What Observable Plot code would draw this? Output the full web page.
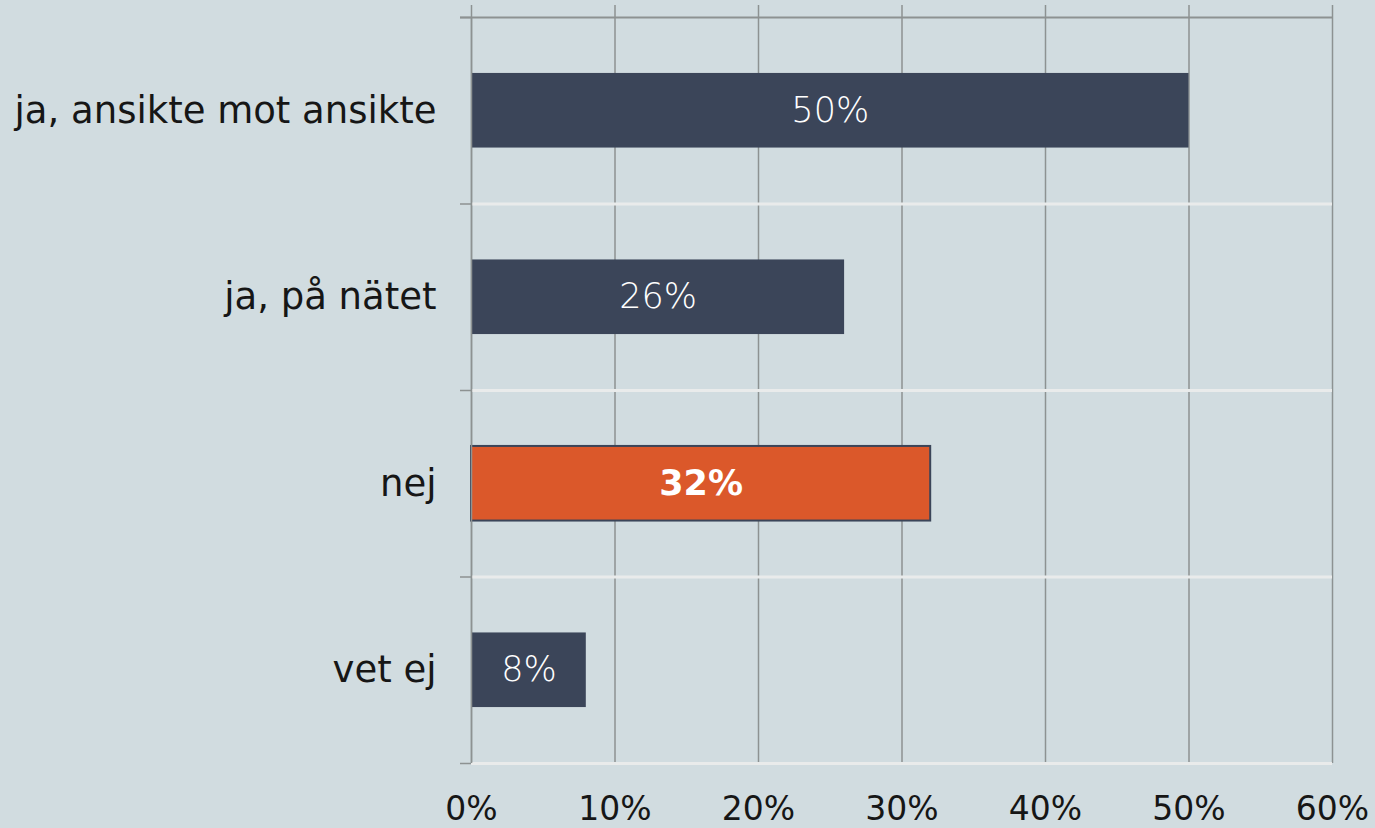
<!DOCTYPE html>
<html>
<head>
<meta charset="utf-8">
<script src="https://cdn.jsdelivr.net/npm/d3@7"></script>
<script src="https://cdn.jsdelivr.net/npm/@observablehq/plot@0.6"></script>
<style>
  html, body { margin: 0; padding: 0; background: #d1dce0; }
  #chart svg { display: block; }
</style>
</head>
<body>
<div id="chart"></div>
<script>
const categories = ["ja, ansikte mot ansikte", "ja, på nätet", "nej", "vet ej"];
const values = [0.50, 0.26, 0.32, 0.08];
const highlighted = ["nej"];
const xTicks = [0, 0.1, 0.2, 0.3, 0.4, 0.5, 0.6];

const data = categories.map((c, i) => ({category: c, index: i, value: values[i], hl: highlighted.includes(c)}));
const boundaries = d3.range(-0.5, categories.length, 1);
const pct = d3.format(".0%");

const dark = "#3b4559";
const orange = "#db582a";
const grid = "#8d9292";
const font = "'DejaVu Sans', sans-serif";

const plot = Plot.plot({
  width: 1375,
  height: 828,
  marginLeft: 471,
  marginRight: 43,
  marginTop: 17,
  marginBottom: 65,
  style: {background: "#d1dce0", fontFamily: font, color: "#161616"},
  x: {domain: [0, 0.6], label: null},
  y: {domain: [-0.5, categories.length - 0.5], reverse: true, label: null},
  marks: [
    Plot.ruleX(xTicks, {x: d => d, y1: -0.5, y2: categories.length - 0.5, stroke: grid, strokeWidth: 1.5, insetTop: -12}),
    Plot.ruleY(boundaries.slice(1), {y: d => d, x1: 0, x2: 0.6, stroke: "#e9ebeb", strokeWidth: 3}),
    Plot.ruleY([-0.5], {y: d => d, x1: 0, x2: 0.6, stroke: grid, strokeWidth: 2, insetLeft: -11}),
    Plot.axisY({ticks: boundaries, tickSize: 11, tickFormat: () => "", stroke: grid, strokeWidth: 1.5, label: null}),
    Plot.rect(data.filter(d => !d.hl), {x1: 0, x2: "value", y1: d => d.index - 0.2, y2: d => d.index + 0.2, fill: dark}),
    Plot.rect(data.filter(d => d.hl), {x1: 0, x2: "value", y1: d => d.index - 0.2, y2: d => d.index + 0.2, fill: orange, stroke: dark, strokeWidth: 2}),
    Plot.ruleX([0], {x: d => d, y1: -0.5, y2: categories.length - 0.5, stroke: grid, strokeWidth: 1.5}),
    Plot.text(data.filter(d => !d.hl), {x: d => d.value / 2, y: "index", text: d => pct(d.value), fill: "white", fontSize: 35, fontFamily: font, fontWeight: 300}),
    Plot.text(data.filter(d => d.hl), {x: d => d.value / 2, y: "index", text: d => pct(d.value), fill: "white", fontSize: 35, fontWeight: "bold", fontFamily: font}),
    Plot.axisY({ticks: d3.range(categories.length), tickSize: 0, tickPadding: 35, tickFormat: i => categories[i], fontSize: 37, fontFamily: font, label: null}),
    Plot.axisX({ticks: xTicks, tickSize: 0, tickPadding: 33, tickFormat: pct, fontSize: 33, fontFamily: font, label: null})
  ]
});
document.getElementById("chart").appendChild(plot);
</script>
</body>
</html>
